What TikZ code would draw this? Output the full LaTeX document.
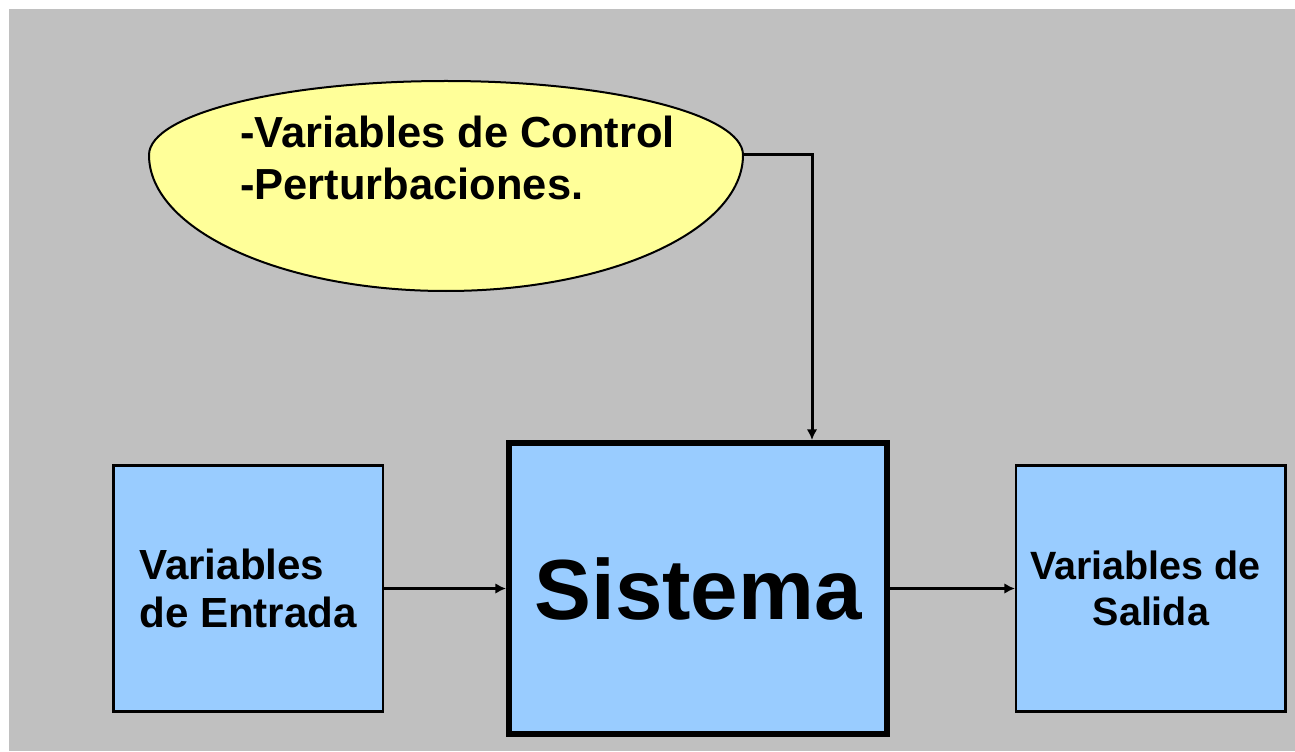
\documentclass[tikz,border=0pt]{standalone}
\usepackage{fontspec}
\setmainfont{Liberation Sans}
\usetikzlibrary{positioning,arrows.meta}
\definecolor{panelgray}{RGB}{192,192,192}
\definecolor{boxblue}{RGB}{153,204,255}
\definecolor{noteyellow}{RGB}{255,255,153}
\tikzset{
    varbox/.style={draw, line width=1.8pt, fill=boxblue,
        minimum width=202pt, minimum height=184.5pt, inner sep=0pt},
    sysbox/.style={draw, line width=4.5pt, fill=boxblue,
        minimum width=283.5pt, minimum height=218.25pt,
        font=\bfseries\fontsize{64}{70}\selectfont},
    flow/.style={line width=2.25pt, -{Latex[length=8pt,width=8pt]}}
}

\begin{document}
\begin{tikzpicture}[x=0.75pt,y=0.75pt]
\useasboundingbox (0,0) rectangle (1295,751);
\fill[white] (0,0) rectangle (1295,751);
\fill[panelgray] (9,0) rectangle (1295,742);

\node[sysbox] (sys) at (698,162.5) {Sistema};
\node[varbox, align=left, left=91.5pt of sys,
    font=\bfseries\fontsize{31.6}{36}\selectfont] (in) {Variables\\de Entrada};
\node[varbox, align=center, right=93.75pt of sys,
    font=\bfseries\fontsize{29.6}{34}\selectfont] (out) {Variables de\kern0.28em\\Salida};

\coordinate (ctrl) at (446,596);
\filldraw[fill=noteyellow, line width=1.5pt] ([xshift=222.75pt]ctrl)
    arc[start angle=0, end angle=180, x radius=222.75pt, y radius=55.5pt]
    arc[start angle=180, end angle=360, x radius=222.75pt, y radius=102pt] -- cycle;
\coordinate (ctrl-e) at ([xshift=223.5pt]ctrl);
\node[anchor=west, inner sep=0pt, align=left,
    font=\bfseries\fontsize{32.6}{39}\selectfont] (ctrltext) at (240,593.5)
    {-Variables de Control\\-Perturbaciones.};

\coordinate (turn) at (812,596);
\draw[flow] (ctrl-e) -- (turn) -- (turn |- sys.north);
\draw[flow] (in) -- (sys);
\draw[flow] (sys) -- (out);
\end{tikzpicture}
\end{document}
